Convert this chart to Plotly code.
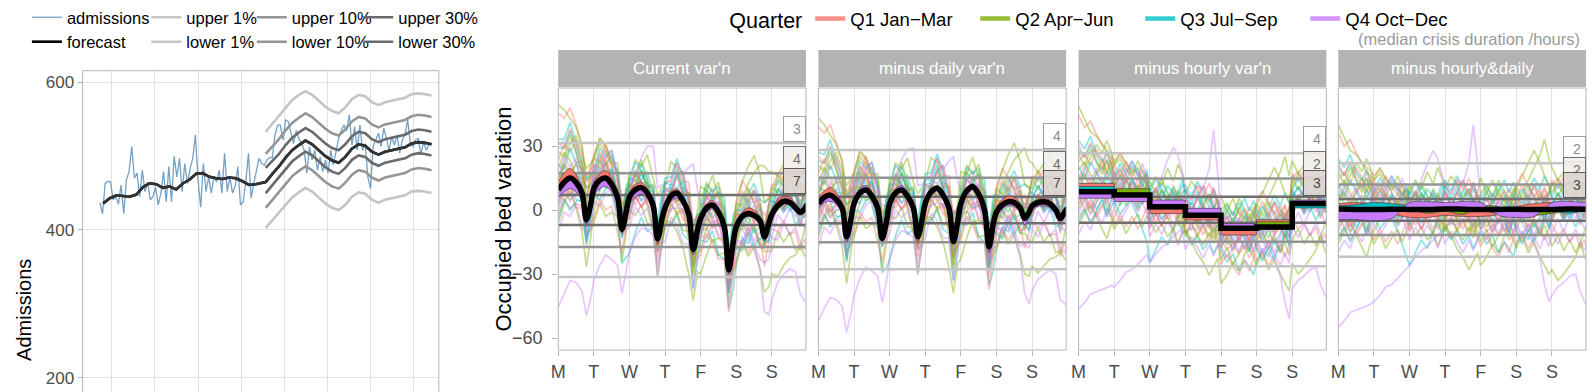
import plotly.graph_objects as go

W, HGT = 1592, 392
FONT = "Liberation Sans, Arial, sans-serif"

# ---------------- left panel : admissions & forecast ----------------
ADM_STEP_WEEKS = 0.8
ADMISSIONS = [437, 422, 463, 466, 465, 441, 445, 435, 461, 422,
              468, 479, 513, 470, 477, 445, 481, 452, 465, 441,
              445, 458, 434, 450, 479, 438, 486, 438, 500, 472,
              497, 452, 490, 463, 483, 497, 529, 468, 431, 490,
              452, 472, 450, 472, 465, 481, 450, 504, 452, 472,
              450, 459, 486, 434, 438, 465, 504, 443, 463, 479,
              497, 490, 488,
              495, 498, 498, 529, 542, 542, 522, 549, 547, 531,
              517, 535, 524, 517, 508, 477, 513, 495, 508, 481,
              499, 479, 495, 477, 508, 488, 506, 524, 535, 542,
              535, 556, 515, 540, 508, 542, 508, 517, 472, 456,
              513, 522, 531, 513, 538, 524, 508, 526, 515, 529,
              504, 522, 529, 549, 517, 513, 522, 524, 502, 520,
              508, 515]
FC_WEEKS = [1, 3, 5, 7, 9, 11, 13, 15, 17, 19, 21, 23, 25, 27, 29, 31, 33, 35, 37, 39, 41, 43, 45, 47, 49,
            50, 52, 54, 56, 58, 60, 62, 64, 66, 68, 70, 72, 74, 76, 78, 80, 82, 84, 86, 88, 90, 92, 94, 96, 98, 100]
FORECAST = [436, 443, 447, 446, 445, 448, 458, 463, 462, 457, 459, 455, 463, 468, 476, 477, 472, 470, 469, 471,
            470, 466, 461, 462, 464,
            465, 476, 486, 498, 508, 515, 521, 516, 508, 500, 494, 491, 499, 510, 516, 514, 506, 502, 506, 508,
            511, 512, 517, 519, 518, 516]
Q_WEEKS = [50, 52, 54, 56, 58, 60, 62, 64, 66, 68, 70, 72, 74, 76, 78, 80, 82, 84, 86, 88, 90, 92, 94, 96, 98, 100]
UPPER_1 = [533, 544, 554, 566, 576, 583, 588, 583, 575, 567, 561, 558, 566, 577, 583, 581, 573, 569, 573, 575, 578, 579, 584, 585, 584, 582]
UPPER_10 = [503, 513, 523, 535, 545, 552, 558, 553, 545, 537, 531, 528, 536, 547, 553, 551, 543, 539, 543, 545, 548, 549, 554, 556, 555, 553]
UPPER_30 = [484, 493, 503, 515, 525, 532, 538, 533, 525, 517, 511, 508, 516, 527, 533, 531, 523, 519, 523, 525, 528, 529, 534, 536, 535, 533]
LOWER_30 = [450, 461, 471, 483, 493, 500, 506, 501, 493, 485, 479, 476, 484, 495, 501, 499, 491, 487, 491, 493, 496, 497, 502, 504, 503, 501]
LOWER_10 = [430, 441, 451, 463, 473, 480, 486, 481, 473, 465, 459, 456, 464, 475, 481, 479, 471, 467, 471, 473, 476, 477, 482, 484, 483, 481]
LOWER_1 = [403, 413, 423, 434, 444, 451, 457, 452, 444, 436, 430, 427, 434, 445, 451, 449, 441, 437, 441, 443, 446, 447, 452, 453, 452, 450]
LEFT_GRID_WEEKS = [3.6, 16.6, 29.6, 42.6, 55.6, 68.6, 81.6, 94.6]

# ---------------- right panels : weekly bed variation ----------------
PANELS = ["Current var'n", "minus daily var'n", "minus hourly var'n", "minus hourly&daily"]
DAY_TICKS = [0, 24, 48, 72, 96, 120, 144]
DAY_LABELS = ["M", "T", "W", "T", "F", "S", "S"]
QUARTERS = ["Q1 Jan\u2212Mar", "Q2 Apr\u2212Jun", "Q3 Jul\u2212Sep", "Q4 Oct\u2212Dec"]
QCOL = ["#F8766D", "#7CAE00", "#00BFC4", "#C77CFF"]
QRGB = ["248,118,109", "124,174,0", "0,191,196", "199,124,255"]

HOURS = [0, 4, 8, 12, 16, 19, 22, 24, 28, 32, 36, 40, 43, 46, 48, 52, 56, 60, 64, 67, 70,
         72, 76, 80, 84, 88, 91, 94, 96, 100, 104, 108, 112, 115, 118, 120, 124, 128, 132, 136, 139, 142,
         144, 148, 152, 156, 160, 163, 166, 168]
DAY_HOURS = [0, 24, 48, 72, 96, 120, 144, 168]
HALF_DAY_HOURS = [0, 12, 24, 36, 48, 60, 72, 84, 96, 108, 120, 132, 144, 156, 168]

# panel 1 (current) means
MEAN_1 = [9.4, 13, 15, 13, 8, -4.5, 3, 10, 14, 15, 12, 6, -9, 0, 6, 9.5, 10.5, 8, 2, -13.5, -4,
          1, 6.5, 8, 4.5, -2, -18.5, -9, -4, 1, 2.3, -1, -8, -28, -15, -8, -3, -1.6, -2.5, -5, -12.5, -6,
          -2, 2, 4, 3.5, 1, -1, 0.5, 3]
Q_1 = [
    [13, 17.5, 19.5, 16.5, 10, -6.5, 5, 13, 17, 18.5, 15, 8, -11, 1.5, 8, 12, 13, 10, 3, -16, -5,
     3, 8.5, 10, 6, -2, -21, -10, -2, 3, 4.5, 1, -7, -30, -16, -6, -1, 1, 0, -3, -12, -5, 0, 5, 6.5, 6, 3, 0, 2, 5],
    [10, 13.5, 15.5, 13.5, 8.5, -5, 3.5, 10.5, 14.5, 15.5, 12.5, 6, -10, -0.5, 6.5, 10, 11, 8.5, 2, -14.5, -4.5,
     1.5, 7, 8.5, 5, -2, -19, -9.5, -3.5, 1.5, 3, -0.5, -8, -28.5, -15.5, -8.5, -4, -2.5, -3, -6, -14, -7,
     -2.5, 1.5, 3.5, 3, 0.5, -2, 0, 2.5],
    [9, 12.5, 14, 12, 7, -5.5, 2.5, 9.5, 13, 14, 11, 5, -9.5, -1, 5.5, 9, 10, 7.5, 1.5, -14, -4.5,
     0.5, 6, 7.5, 4, -2.5, -19.5, -9.5, -4.5, 0.5, 2, -1.5, -8.5, -29, -16, -9, -4, -2.5, -3.5, -6.5, -14.5, -7.5,
     -3, 1, 3, 2.5, 0, -2.5, -0.5, 2],
    [6, 8.5, 10, 8.5, 4, -6.5, 0, 6.5, 10, 11, 8.5, 3, -10, -2, 3, 6, 7.5, 5.5, 0, -13, -3.5,
     -1, 4, 5.5, 2.5, -3, -17.5, -8, -6, -1, 0.5, -2.5, -8.5, -26.5, -14, -9, -4.5, -3, -3.5, -5.5, -11, -6.5,
     -1, 3.5, 5.5, 5, 2.5, 0.5, 1.5, 4]]
# panel 2 (minus daily)
MEAN_2 = [3, 6, 7, 5, 1, -12.5, -4, 3, 8, 9.4, 6.5, 1, -13.3, -5, 3, 8, 9.4, 6.5, 1, -12.5, -4,
          3, 8.5, 10.2, 7, 1, -14.8, -5, 3, 9, 10.9, 7.5, 0, -17.2, -6, -1, 2.5, 3.9, 3.5, 1, -3.9, -1,
          2, 3.5, 3.9, 3, 0, -3.9, -1, 1]
Q_2 = [
    [6, 9, 10.5, 8, 3, -12, -3, 4, 8.5, 10, 7, 1, -14.5, -5.5, 3, 8, 9, 6, 0, -15.5, -5,
     2.5, 8, 9.5, 6, 0, -16, -6, 2, 8, 9.5, 6, -1.5, -20, -7.5, 1, 5, 6.5, 6, 3, -2, 1,
     3.5, 5, 5.5, 4.5, 1.5, -2.5, 0, 2],
    [3.5, 6.5, 7.5, 5.5, 1.5, -12, -3.5, 2.5, 7.5, 9, 6, 0.5, -13.5, -5.5, 2.5, 7.5, 9, 6, 0.5, -13, -4.5,
     2.5, 8, 9.5, 6.5, 0.5, -15.5, -5.5, 2.5, 8.5, 10, 7, -0.5, -18, -6.5, -1.5, 2, 3.5, 3, 0.5, -4.5, -1.5,
     1.5, 3, 3.5, 2.5, -0.5, -4.5, -1.5, 0.5],
    [2, 5.5, 6.5, 4.5, 0.5, -13, -4.5, 3, 8, 9.5, 6.5, 1, -13, -5, 3, 8, 9.5, 6.5, 1, -12.5, -4,
     3.5, 9, 11, 7.5, 1.5, -14.5, -5, 4, 10, 12.5, 8.5, 1, -16.5, -5.5, -0.5, 3, 4.5, 4, 1.5, -3.5, -0.5,
     2.5, 4, 4.5, 3.5, 0.5, -3.5, -0.5, 1.5],
    [0.5, 3.5, 4, 2.5, -1.5, -15, -6, 4.5, 10, 11.5, 8.5, 2.5, -13, -4, 4.5, 10, 11.5, 8.5, 2.5, -12, -3,
     4, 9.5, 11.5, 8, 2, -14, -4.5, 3, 9, 11, 7.5, 0.5, -16.5, -5.5, -3, 0.5, 2, 1.5, -1, -7, -3.5,
     0, 1.5, 2, 1, -2, -6, -3, -1]]
# panel 3 (minus hourly): daily steps
MEAN_3 = [8.6, 7.0, 1.5, -2.5, -8.5, -8.0, 3.1, 3.1]
Q_3 = [[12.5, 5.5, -1.6, -4.7, -11.7, -4.5, 3.5, 3.5],
       [8, 10, 0.5, -3.5, -9.5, -5.5, 2.5, 2.5],
       [11, 8, 2, -2, -8.5, -8.5, 1, 1],
       [5.5, 4, 4.7, 0.8, -6.3, -9, 4.7, 4.7]]
# panel 4 (minus hourly & daily)
MEAN_4 = [0.5, 0.3, 0.2, 0.4, 0.3, 0.2, 0.5, 0.4, 0.2, 0.3, 0.4, 0.2, 0.3, 0.5, 0.4]
Q_4 = [[3, 3.5, 2.5, -1.5, -3.5, -3.5, -2.5, -3, -3, -2, 1.5, 3, 3.5, 3, 2.5],
       [-1.5, 2, 2.5, 1.5, 0.5, -1.5, -0.5, -2, 2, 1.5, -2, -2.5, -1.5, 0.5, 1.5],
       [2, 2.5, 3.5, 3, 2, 0.5, 1.5, 2, 0.5, -1.5, -0.5, 0.5, -0.5, -1.5, 0],
       [-4.5, -4.5, -5, -4, 3.5, 4, 3.5, 4, 3.5, -2.5, -3.5, -3, 3.5, 4, 3.5]]

# individual weeks: residual variation (quarter index, values at HOURS)
WEEK_RESIDUALS = [
    (0, [36, 30, 33, 27, 22, 20, 18, 16, 19, 14, 12, 10, 8, 6, 4, 7, 2, 5, 0, -3, 1, -2, 3, -4, 0, -6, -3, -8,
         -5, -10, -7, -12, -8, -14, -10, -6, -2, -8, -3, 2, 5, 8, 12, 15, 10, 14, 8, 12, 9, 11]),
    (1, [40, 34, 28, 26, 22, 18, 16, 14, 17, 12, 9, 13, 7, 10, 6, 2, 8, 4, 0, 5, -2, -6, -12, -18, -22, -28, -24, -20,
         -26, -22, -16, -20, -12, -8, -4, 2, 8, 14, 20, 26, 33, 24, 20, 14, 8, 12, 6, 10, 4, 8]),
    (2, [20, 16, 22, 14, 10, 15, 8, 4, 9, 2, -4, -10, -16, -22, -26, -20, -14, -18, -10, -6, -12, -8, -14, -10, -16, -12, -18, -14,
         -10, -16, -12, -20, -15, -18, -22, -16, -10, -14, -6, -12, -3, -8, -2, 4, -3, 2, 6, 0, -4, -2]),
    (3, [-55, -52, -48, -47, -46, -45, -44, -43, -40, -36, -35, -32, -30, -28, -26, -22, -19, -17, -14, -12, -10,
         -8, -6, -7, -4, -5, -2, 0, -3, 1, -2, 4, 2, -1, 3, 0, 4, 2, -3, 1, 5, 2, -2, 3, 6, 1, -4, 0, 2, -1]),
    (0, [-12, -8, -14, -10, -6, -11, -4, -2, 4, 0, 6, 2, 8, 5, 3, -4, 1, -6, -2, -9, -5, -8, -3, -10, -5, -12, -7, -3,
         0, 5, 2, 8, 4, 10, 6, 3, -2, 4, -4, 0, -6, -3, -7, -12, -9, -15, -11, -18, -14, -20]),
    (1, [-16, -10, -6, -12, -18, -22, -15, -10, -4, 2, -3, 4, 0, 6, 9, 14, 10, 18, 12, 20, 15, 10, 16, 12, 6, 10, 3, 7,
         2, -4, 0, -6, -2, -9, -14, -18, -12, -20, -15, -22, -26, -30, -28, -33, -30, -26, -22, -16, -10, -6]),
    (2, [-4, 2, -2, 5, 0, 7, 3, 8, 12, 6, 14, 9, 4, 10, 5, 0, 7, 2, -3, 3, -5, 0, 6, 2, 9, 4, 10, 6,
         3, -2, 5, 0, 6, 2, -4, 0, -6, -1, -8, -3, 4, -2, 3, 8, 2, -4, 1, -6, -1, -5]),
    (3, [2, -4, 5, 1, -3, 4, 0, -6, 3, -2, 6, 1, -4, 3, 5, 8, 14, 22, 28, 24, 16, 11, 8, 14, 12, 22, 40, 18,
         6, 4, 8, 2, -3, 5, 1, -4, 2, -2, 5, 0, -3, 4, 6, 2, 9, 4, -1, 3, -2, 2]),
    (0, [5, 9, 3, 8, 12, 6, 10, 14, 9, 16, 11, 7, 12, 8, 4, 9, 2, -3, 3, -6, -1, 2, -4, 1, 6, 0, 4, -2,
         -6, 0, -8, -4, -10, -5, -12, -16, -11, -18, -13, -8, -14, -9, -4, 2, -2, 5, 0, 8, 4, 6]),
    (1, [10, 14, 8, 3, 7, 1, 4, -2, 3, -5, -1, -7, -3, 2, 6, 1, 8, 3, 10, 5, 0, -4, 2, -6, -1, 4, -2, 3,
         8, 12, 6, 14, 9, 4, 10, 6, 1, 7, -2, 3, -5, 0, 4, -2, 6, 10, 18, 24, 16, 12]),
    (2, [8, 3, -3, -8, -4, -12, -7, -3, -9, -5, 0, -6, 2, -2, 3, -2, 4, 10, 6, 1, 5, 9, 4, -1, 3, -3, -8, -4,
         -9, -4, -10, -5, -1, -6, 0, 5, 10, 4, 12, 8, 3, 9, 6, 1, -5, -1, -8, -3, 2, -1]),
    (3, [-6, -1, -8, -3, 2, -4, 1, 5, 0, 7, 2, -3, 3, -2, -5, 0, -6, -2, -9, -4, 1, -3, 3, -1, 5, 0, -5, -1,
         2, -4, 1, -6, -2, 3, -3, -2, -6, -12, -16, -23, -35, -43, -40, -36, -34, -31, -30, -38, -43, -45]),
    (0, [14, 18, 12, 20, 15, 10, 16, 11, 6, 13, 8, 3, 9, 4, -1, 5, -2, 3, 8, 2, 7, 12, 7, 14, 9, 15, 10, 5,
         0, 6, -1, 4, 9, 3, 8, 12, 17, 11, 6, 10, 4, 9, 14, 10, 16, 12, 7, 13, 9, 12]),
    (1, [-8, -3, -10, -5, -1, -7, -12, -16, -11, -18, -13, -9, -15, -10, -6, -12, -8, -14, -10, -17, -12,
         -7, -13, -9, -4, -10, -5, -11, -15, -9, -17, -12, -6, -11, -5, -9, -3, -10, -5, -12, -7, -13,
         -17, -12, -19, -14, -20, -15, -22, -24]),
    (2, [24, 20, 26, 18, 14, 19, 13, 9, 15, 10, 16, 11, 6, 12, 7, 13, 8, 3, 9, 4, 10, 14, 9, 16, 11, 6, 12, 7,
         2, 8, 3, 9, 14, 8, 13, 8, 3, 9, 15, 10, 16, 11, 6, 12, 7, 2, 8, 3, 9, 5]),
    (3, [-20, -14, -18, -10, -15, -8, -12, -6, -12, -7, -2, -8, -3, -9, -14, -8, -13, -7, -12, -18, -11,
         -16, -10, -15, -20, -14, -19, -13, -8, -14, -9, -3, -10, -4, -11, -6, -12, -7, -13, -18, -12, -17,
         -11, -16, -10, -15, -9, -14, -19, -16]),
    (1, [4, 10, 16, 22, 18, 24, 19, 14, 20, 15, 10, 16, 11, 6, 2, 8, 3, -2, 4, -1, -6, -10, -4, -9, -14, -8, -13, -7,
         -2, -8, -3, 2, -4, 1, 5, 10, 16, 22, 28, 22, 16, 12, 8, 14, 18, 24, 17, 11, 7, 3]),
    (0, [-2, -8, -4, -12, -7, -3, -9, -14, -9, -15, -10, -16, -11, -6, -1, -7, -2, 4, -2, 5, 0, -5, 1, -4, -9, -3, -8, -13,
         -17, -12, -18, -22, -15, -20, -14, -9, -15, -10, -4, -11, -5, 1, -4, 2, -3, 3, 8, 2, 7, 1]),
    (2, [12, 6, 14, 9, 3, 10, 5, -1, 6, 0, 8, 2, -4, 3, 9, 4, 11, 6, 0, 7, 13, 8, 2, 9, 3, -3, 4, -2,
         5, 11, 6, 12, 7, 1, 8, 3, -3, 4, -1, 6, 0, -5, 2, 8, 3, 10, 5, -1, 4, 0]),
    (0, [-6, 0, -8, -2, 5, -3, 3, 9, 2, 10, 4, -2, 5, -1, -7, -2, -9, -4, 2, -5, 1, 7, 1, 8, 3, -4, 2, -3,
         -9, -4, -11, -5, 0, -6, 1, 6, 0, 7, 12, 5, 11, 4, -2, 4, -3, 2, 8, 2, -4, 1]),
    (1, [18, 12, 20, 14, 8, 15, 9, 3, 10, 4, -2, 5, -1, 6, 12, 6, 13, 7, 1, 8, 2, -4, 3, -3, 4, 10, 3, 9,
         15, 8, 14, 7, 1, 7, 0, -6, 1, -5, 2, 8, 1, 7, 13, 6, 12, 5, -1, 6, 0, -3]),
    (3, [-10, -4, -11, -5, 1, -6, 0, 6, -1, 7, 1, -5, 2, -4, -10, -3, -9, -2, 4, -3, 3, 9, 2, 8, 14, 7, 13, 6,
         0, 6, -1, 5, -2, -8, -1, -7, -13, -6, -12, -5, 1, -5, -11, -4, -10, -3, 3, -3, -9, -6]),
    (2, [-14, -8, -15, -9, -3, -10, -4, 2, -5, 1, 7, 0, 6, -1, -7, 0, -6, 1, 7, 0, 6, 12, 5, 11, 4, -2, 5, -1,
         -7, 0, -6, 1, -5, -11, -4, -10, -16, -9, -15, -8, -2, -9, -3, 3, -4, 2, 8, 1, 7, 3]),
    (1, [2, 8, 1, 9, 15, 8, 14, 7, 1, 8, 2, -4, 3, -3, 3, -4, 2, -5, -11, -4, -10, -3, 3, -4, 2, -5, -11, -4,
         2, 9, 3, 10, 4, -2, 5, 11, 5, 12, 6, 0, 7, 1, -5, 2, -4, 3, 9, 2, 8, 4]),
    (0, [22, 16, 23, 17, 11, 18, 12, 6, 13, 7, 1, 8, 2, -4, -10, -3, -9, -2, 4, -3, 3, 9, 2, 8, 14, 7, 13, 6,
         0, -6, 1, -5, 1, -6, 0, 6, 12, 5, 11, 4, 10, 3, -3, 4, -2, 5, -1, -7, -1, -4]),
    (3, [6, 12, 5, 11, 4, -2, 5, 11, 4, 10, 16, 9, 15, 8, 2, 9, 3, -3, 4, -2, 5, -1, -7, 0, -6, 1, 7, 0,
         -6, 1, -5, -11, -4, -10, -3, 3, -4, 2, 8, 1, 7, 0, -6, 1, -5, 2, 8, 1, 7, 4]),
]

THRESHOLDS = [[31.4, 17.3, 7.0, -7.0, -17.3, -31.4],
              [28.1, 15.1, 6.2, -6.2, -15.1, -27.8],
              [26.6, 14.8, 6.2, -6.0, -14.9, -26.3],
              [21.9, 12.0, 5.2, -5.0, -11.7, -21.9]]
CRISIS_HOURS = [["3", "4", "7"], ["4", "4", "7"], ["4", "2", "3"], ["2", "2", "3"]]

for _, r in WEEK_RESIDUALS:
    assert len(r) == len(HOURS), len(r)
for arr in [MEAN_1, MEAN_2] + Q_1 + Q_2:
    assert len(arr) == len(HOURS)
assert len(ADMISSIONS) == 125 and len(FORECAST) == len(FC_WEEKS)

# ---------------- styling constants ----------------
GRID = "#E2E2E2"
BORDER = "#B3B3B3"
TICKTXT = "#4D4D4D"
LINE_GREYS = ["#C4C4C4", "#939393", "#6F6F6F", "#6F6F6F", "#939393", "#C4C4C4"]
BOX_STYLE = [dict(bg="rgba(255,255,255,0.9)", border="#A0A0A0", txt="#8C8C8C"),
             dict(bg="rgba(242,238,236,0.9)", border="#6E6E6E", txt="#6E6E6E"),
             dict(bg="rgba(222,214,211,0.92)", border="#5A5A5A", txt="#4A4A4A")]

PANEL_LEFT_PX = [553, 814.5, 1076, 1337]
PANEL_W_PX = 249
PANEL_TOP_PX, PANEL_BOT_PX = 88, 350
STRIP_TOP_PX = 50

fig = go.Figure()

# ---- left panel traces ----
adm_weeks = [i * ADM_STEP_WEEKS for i in range(len(ADMISSIONS))]
left_specs = [
    ("upper 1%", UPPER_1, "#C4C4C4", "legend3"),
    ("lower 1%", LOWER_1, "#C4C4C4", "legend3"),
    ("upper 10%", UPPER_10, "#959595", "legend4"),
    ("lower 10%", LOWER_10, "#959595", "legend4"),
    ("upper 30%", UPPER_30, "#6A6A6A", "legend5"),
    ("lower 30%", LOWER_30, "#6A6A6A", "legend5"),
]
fig.add_trace(go.Scatter(x=adm_weeks, y=ADMISSIONS, mode="lines", name="admissions",
                         line=dict(color="rgba(70,130,180,0.75)", width=1.3),
                         legend="legend2", xaxis="x", yaxis="y"))
fig.add_trace(go.Scatter(x=FC_WEEKS, y=FORECAST, mode="lines", name="forecast",
                         line=dict(color="#000000", width=2.6),
                         legend="legend2", xaxis="x", yaxis="y", showlegend=True))
for name, vals, col, lg in left_specs:
    fig.add_trace(go.Scatter(x=Q_WEEKS, y=vals, mode="lines", name=name,
                             line=dict(color=col, width=2.6), legend=lg, xaxis="x", yaxis="y"))
fig.add_trace(go.Scatter(x=FC_WEEKS, y=FORECAST, mode="lines", showlegend=False,
                         line=dict(color="#333333", width=2.6), xaxis="x", yaxis="y"))

# ---- facet traces ----
for p in range(4):
    xa, ya = f"x{p + 2}", f"y{p + 2}"
    if p == 0:
        base = MEAN_1
    elif p == 1:
        base = MEAN_2
    elif p == 2:
        base = [MEAN_3[min(int(h // 24), 7)] for h in HOURS]
    else:
        base = [0.0] * len(HOURS)
    for q, res in WEEK_RESIDUALS:
        fig.add_trace(go.Scatter(x=HOURS, y=[b + r for b, r in zip(base, res)], mode="lines",
                                 line=dict(color=f"rgba({QRGB[q]},0.42)", width=1.8),
                                 showlegend=False, hoverinfo="skip", xaxis=xa, yaxis=ya))
    for t, col in zip(THRESHOLDS[p], LINE_GREYS):
        fig.add_trace(go.Scatter(x=[0, 168], y=[t, t], mode="lines", line=dict(color=col, width=2.5),
                                 showlegend=False, hoverinfo="skip", xaxis=xa, yaxis=ya))
    if p == 0:
        xs, mean, qs, shape = HOURS, MEAN_1, Q_1, "spline"
    elif p == 1:
        xs, mean, qs, shape = HOURS, MEAN_2, Q_2, "spline"
    elif p == 2:
        xs, mean, qs, shape = DAY_HOURS, MEAN_3, Q_3, "hv"
    else:
        xs, mean, qs, shape = HALF_DAY_HOURS, MEAN_4, Q_4, "spline"
    for q in range(4):
        fig.add_trace(go.Scatter(x=xs, y=mean, mode="lines", line=dict(width=0, shape=shape),
                                 showlegend=False, hoverinfo="skip", xaxis=xa, yaxis=ya))
        fig.add_trace(go.Scatter(x=xs, y=qs[q], mode="lines", fill="tonexty", fillcolor=QCOL[q],
                                 line=dict(color="rgba(50,50,50,0.85)", width=0.7, shape=shape),
                                 showlegend=False, hoverinfo="skip", xaxis=xa, yaxis=ya))
    fig.add_trace(go.Scatter(x=xs, y=mean, mode="lines", line=dict(color="#000000", width=5.5, shape=shape),
                             showlegend=False, hoverinfo="skip", xaxis=xa, yaxis=ya))

for q in range(4):
    fig.add_trace(go.Scatter(x=[None], y=[None], mode="lines", name=QUARTERS[q],
                             line=dict(color=f"rgba({QRGB[q]},0.8)", width=4.5),
                             legend="legend", xaxis="x2", yaxis="y2"))


def px_x(v):
    return v / W


def px_y(v):
    return 1 - v / HGT


layout = dict(
    width=W, height=HGT, autosize=False,
    margin=dict(l=0, r=0, t=0, b=0),
    paper_bgcolor="white", plot_bgcolor="white",
    font=dict(family=FONT, color="#000000"),
    xaxis=dict(domain=[px_x(75), px_x(433)], range=[-5.2, 102.2], tickvals=LEFT_GRID_WEEKS,
               showticklabels=False, ticks="", showgrid=True, gridcolor=GRID, gridwidth=1,
               zeroline=False, showline=False, anchor="y"),
    yaxis=dict(domain=[0, px_y(70.7)], range=[180.6, 615.7], tickvals=[200, 400, 600],
               ticks="outside", ticklen=4, tickcolor=BORDER, tickfont=dict(size=17, color=TICKTXT),
               showgrid=True, gridcolor=GRID, gridwidth=1, zeroline=False, showline=False, anchor="x"),
    showlegend=True,
    legend=dict(orientation="h", x=px_x(723), xanchor="left", y=1.0, yanchor="top",
                title=dict(text="Quarter", side="left", font=dict(size=21.5)),
                font=dict(size=18.5), bgcolor="rgba(0,0,0,0)", itemwidth=30, traceorder="normal",
                entrywidth=120, entrywidthmode="pixels"),
)
legend_cols = {"legend2": 19, "legend3": 139, "legend4": 245, "legend5": 352}
for lg, xpx in legend_cols.items():
    layout[lg] = dict(orientation="v", x=px_x(xpx), xanchor="left", y=1.0, yanchor="top",
                      font=dict(size=16.5), bgcolor="rgba(0,0,0,0)", traceorder="normal",
                      tracegroupgap=0, itemwidth=30)

shapes = []
annotations = []
for p in range(4):
    i = p + 2
    x0 = px_x(PANEL_LEFT_PX[p])
    x1 = px_x(PANEL_LEFT_PX[p] + PANEL_W_PX)
    layout[f"xaxis{i}"] = dict(domain=[x0, x1], range=[0, 167], tickvals=DAY_TICKS, ticktext=DAY_LABELS,
                               ticks="outside", ticklen=5, tickcolor=BORDER,
                               tickfont=dict(size=18, color=TICKTXT), showgrid=True, gridcolor=GRID,
                               gridwidth=1, zeroline=False, showline=False, anchor=f"y{i}")
    layout[f"yaxis{i}"] = dict(domain=[px_y(PANEL_BOT_PX), px_y(PANEL_TOP_PX)], range=[-65.6, 57.2],
                               tickvals=[-60, -30, 0, 30],
                               ticktext=["\u221260", "\u221230", "0", "30"],
                               showticklabels=(p == 0), ticks="outside" if p == 0 else "",
                               ticklen=5, tickcolor=BORDER, tickfont=dict(size=18, color=TICKTXT),
                               ticklabelstandoff=6,
                               showgrid=False, zeroline=False, showline=False, anchor=f"x{i}")
    shapes.append(dict(type="rect", xref=f"x{i} domain", yref=f"y{i} domain", x0=0, x1=1, y0=0, y1=1,
                       line=dict(color=BORDER, width=1), fillcolor="rgba(0,0,0,0)", layer="above"))
    shapes.append(dict(type="rect", xref="paper", yref="paper", x0=x0, x1=x1,
                       y0=px_y(PANEL_TOP_PX - 1), y1=px_y(STRIP_TOP_PX),
                       line=dict(width=0), fillcolor="#B3B3B3", layer="above"))
    annotations.append(dict(text=PANELS[p], xref="paper", yref="paper", x=(x0 + x1) / 2,
                            y=px_y((STRIP_TOP_PX + PANEL_TOP_PX) / 2), showarrow=False,
                            font=dict(size=17, color="white"), xanchor="center", yanchor="middle"))
    for lvl in range(3):
        st = BOX_STYLE[lvl]
        annotations.append(dict(text=CRISIS_HOURS[p][lvl], xref=f"x{i} domain", yref=f"y{i}",
                                x=1, y=THRESHOLDS[p][lvl], xanchor="right", yanchor="bottom",
                                yshift=1, showarrow=False, align="right", width=13,
                                font=dict(size=14, color=st["txt"]), bgcolor=st["bg"],
                                bordercolor=st["border"], borderwidth=1, borderpad=4))

shapes.append(dict(type="rect", xref="x domain", yref="y domain", x0=0, x1=1, y0=-0.2, y1=1,
                   line=dict(color=BORDER, width=1), fillcolor="rgba(0,0,0,0)", layer="above"))

annotations.append(dict(text="Admissions", xref="paper", yref="paper", x=px_x(16), y=px_y(310),
                        textangle=-90, showarrow=False, font=dict(size=20), xanchor="center", yanchor="middle"))
annotations.append(dict(text="Occupied bed variation", xref="paper", yref="paper", x=px_x(497),
                        y=px_y((PANEL_TOP_PX + PANEL_BOT_PX) / 2), textangle=-90, showarrow=False,
                        font=dict(size=22), xanchor="center", yanchor="middle"))
annotations.append(dict(text="(median crisis duration /hours)", xref="paper", yref="paper",
                        x=px_x(1582), y=px_y(39.5), showarrow=False, font=dict(size=16.5, color="#9A9A9A"),
                        xanchor="right", yanchor="middle"))

layout["shapes"] = shapes
layout["annotations"] = annotations
fig.update_layout(**layout)
fig.write_html("out.html", config={"displayModeBar": False},
               post_script="document.body.style.margin='0px';document.body.style.padding='0px';"
                           "document.documentElement.style.overflow='hidden';")
